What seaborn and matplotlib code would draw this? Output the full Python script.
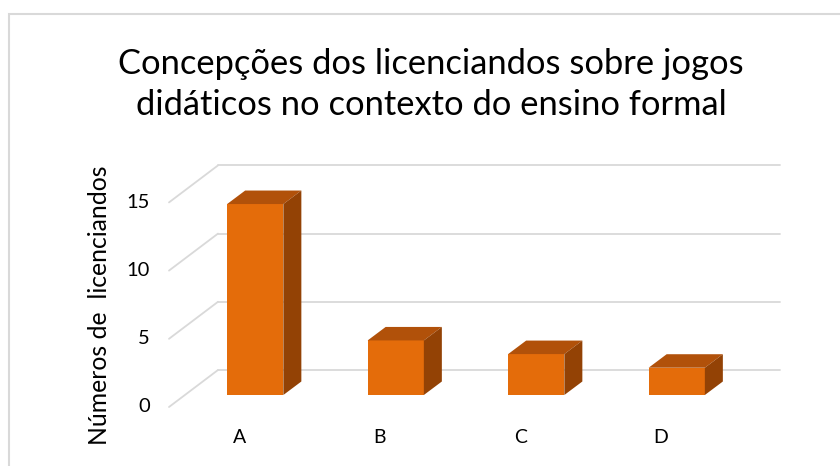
import matplotlib
matplotlib.use("Agg")
import matplotlib.pyplot as plt
import seaborn as sns
from matplotlib.transforms import ScaledTranslation, IdentityTransform
from matplotlib.patches import Polygon, Rectangle
from matplotlib.lines import Line2D

# dados
categorias = ["A", "B", "C", "D"]
valores = [14, 4, 3, 2]
y_ticks = [0, 5, 10, 15]

titulo = "Concepções dos licenciandos sobre jogos\ndidáticos no contexto do ensino formal"
y_label = "Números de  licenciandos"

cor_frente = "#E46C0A"
cor_topo = "#B1510A"
cor_lado = "#934205"
cor_grade = "#D9D9D9"

sns.set_theme(style="white")
plt.rcParams['font.family'] = ['Lato', 'DejaVu Sans']
plt.rcParams['text.color'] = 'black'

W, H = 840, 466
fig = plt.figure(figsize=(W / 100, H / 100), dpi=100)
ax = fig.add_axes([185 / W, (H - 395) / H, 562 / W, 204.6 / H])

sns.barplot(x=categorias, y=valores, width=0.4, color=cor_frente, saturation=1,
            ax=ax, zorder=3, linewidth=0, edgecolor="none")
ax.set_xlim(-0.5, 3.5)
ax.set_ylim(0, 15)
ax.set_xlabel("")
ax.set_ylabel("")
ax.set_xticks([])
ax.set_yticks([])
ax.patch.set_alpha(0)
for s in ax.spines.values():
    s.set_visible(False)

# deslocamentos do efeito 3D (polegadas)
frente = ScaledTranslation(-0.16, -0.12, fig.dpi_scale_trans)
fundo = ScaledTranslation(0.33, 0.25, fig.dpi_scale_trans)
prof = (18, 13.5)  # profundidade das barras em pixels

# grade: parede do fundo + linhas do piso lateral
for t in y_ticks:
    ax.plot([-0.5, 3.5], [t, t], color=cor_grade, lw=1.3,
            transform=ax.transData + fundo, zorder=1, clip_on=False)
    p1 = (ax.transData + frente).transform((-0.5, t))
    p2 = (ax.transData + fundo).transform((-0.5, t))
    fig.add_artist(Line2D([p1[0], p2[0]], [p1[1], p2[1]], color=cor_grade,
                          lw=1.3, transform=IdentityTransform(), zorder=1))
    ax.text(-0.5, t, str(t), ha="right", va="center", fontsize=14.5, color="black",
            transform=ax.transData + frente + ScaledTranslation(-0.19, 0, fig.dpi_scale_trans))

for i, c in enumerate(categorias):
    ax.text(i, 0, c, ha="center", va="top", fontsize=14, color="black",
            transform=ax.transData + frente + ScaledTranslation(0, -0.22, fig.dpi_scale_trans))

# faces de topo e lateral das barras
for bar in ax.patches:
    x0, y0 = bar.get_x(), bar.get_y()
    x1, y1 = x0 + bar.get_width(), y0 + bar.get_height()
    a = ax.transData.transform((x0, y1))
    b = ax.transData.transform((x1, y1))
    c = ax.transData.transform((x1, y0))
    dx, dy = prof
    topo = Polygon([a, b, (b[0] + dx, b[1] + dy), (a[0] + dx, a[1] + dy)],
                   closed=True, fc=cor_topo, ec="none", transform=IdentityTransform(), zorder=4)
    lado = Polygon([b, c, (c[0] + dx, c[1] + dy), (b[0] + dx, b[1] + dy)],
                   closed=True, fc=cor_lado, ec="none", transform=IdentityTransform(), zorder=4)
    fig.add_artist(topo)
    fig.add_artist(lado)

fig.text(431 / W, 1 - 84.5 / H, titulo, ha="center", va="center", fontsize=24.8,
         linespacing=1.34, color="black")
fig.text(100 / W, 1 - 305 / H, y_label, ha="center", va="center", rotation=90,
         fontsize=17.8, color="black")

fig.add_artist(Rectangle((9 / W, -0.1), 1.2, 1.1 - 14 / H, fill=False,
                         ec=cor_grade, lw=1.5, transform=fig.transFigure))

fig.savefig("out.png", dpi=100)
